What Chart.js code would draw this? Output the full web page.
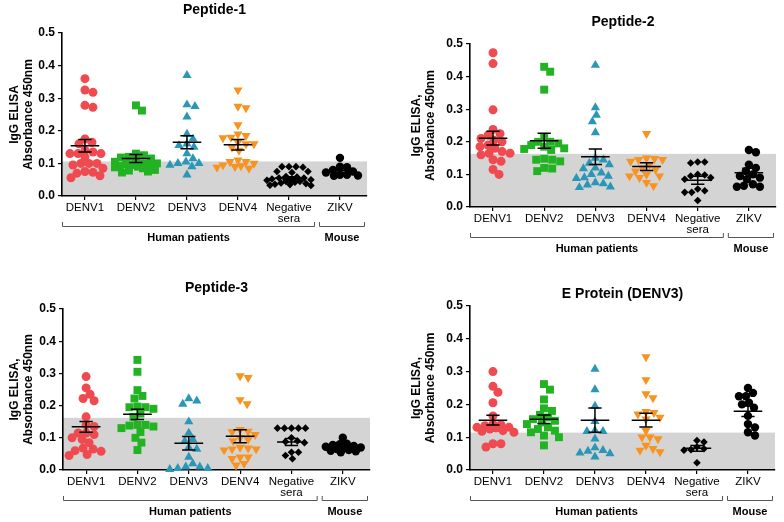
<!DOCTYPE html>
<html>
<head>
<meta charset="utf-8">
<script src="https://cdn.jsdelivr.net/npm/chart.js@4.4.1/dist/chart.umd.min.js"></script>
<style>
  body { margin: 0; background: #fff; }
  #wrap { position: relative; width: 784px; height: 522px; }
  canvas { position: absolute; }
</style>
</head>
<body>
<div id="wrap">
  <canvas id="c0" width="392" height="261" style="left:0;top:0"></canvas>
  <canvas id="c1" width="392" height="261" style="left:392px;top:0"></canvas>
  <canvas id="c2" width="392" height="261" style="left:0;top:261px"></canvas>
  <canvas id="c3" width="392" height="261" style="left:392px;top:261px"></canvas>
</div>
<script>
// groups on the x axis, and the two brackets underneath
const groups = ['DENV1', 'DENV2', 'DENV3', 'DENV4', 'Negative sera', 'ZIKV'];
const brackets = ['Human patients', 'Mouse'];
const yTicks = [0, 0.1, 0.2, 0.3, 0.4, 0.5];

// Peptide-1
const pep1Values = [
  [0.36, 0.325, 0.318, 0.278, 0.272, 0.175, 0.165, 0.16, 0.14, 0.135, 0.13, 0.13, 0.13, 0.12, 0.1, 0.1, 0.1, 0.095, 0.085, 0.075, 0.073, 0.07, 0.062, 0.056],
  [0.278, 0.262, 0.13, 0.125, 0.12, 0.118, 0.115, 0.11, 0.105, 0.1, 0.1, 0.098, 0.095, 0.095, 0.092, 0.09, 0.088, 0.085, 0.08, 0.078, 0.075, 0.072],
  [0.37, 0.28, 0.275, 0.243, 0.19, 0.175, 0.16, 0.155, 0.15, 0.13, 0.115, 0.105, 0.1, 0.1, 0.095, 0.09, 0.065],
  [0.325, 0.275, 0.27, 0.218, 0.19, 0.185, 0.18, 0.178, 0.165, 0.16, 0.16, 0.15, 0.14, 0.11, 0.105, 0.105, 0.1, 0.095, 0.09, 0.088, 0.085, 0.092],
  [0.09, 0.09, 0.088, 0.09, 0.075, 0.075, 0.072, 0.06, 0.058, 0.055, 0.055, 0.052, 0.05, 0.05, 0.048, 0.045, 0.045, 0.042, 0.04, 0.038, 0.036, 0.035, 0.033, 0.032],
  [0.117, 0.09, 0.088, 0.08, 0.075, 0.072, 0.065, 0.065, 0.063, 0.062]
];
const pep1Mean = [0.154, 0.115, 0.165, 0.157, 0.055, 0.078];
const pep1Sem = [0.019, 0.012, 0.02, 0.016, 0.004, 0.006];

// Peptide-2
const pep2Values = [
  [0.473, 0.44, 0.298, 0.238, 0.225, 0.22, 0.21, 0.205, 0.2, 0.19, 0.185, 0.18, 0.17, 0.165, 0.165, 0.16, 0.145, 0.14, 0.115, 0.1],
  [0.43, 0.415, 0.36, 0.215, 0.2, 0.2, 0.195, 0.19, 0.185, 0.18, 0.178, 0.175, 0.148, 0.145, 0.145, 0.14, 0.12, 0.118, 0.11],
  [0.435, 0.305, 0.282, 0.262, 0.228, 0.15, 0.145, 0.135, 0.13, 0.12, 0.118, 0.105, 0.1, 0.095, 0.09, 0.088, 0.075, 0.072, 0.068, 0.062, 0.06],
  [0.225, 0.15, 0.148, 0.145, 0.145, 0.14, 0.13, 0.12, 0.115, 0.11, 0.1, 0.095, 0.095, 0.09, 0.075, 0.065],
  [0.138, 0.138, 0.135, 0.1, 0.098, 0.095, 0.09, 0.085, 0.055, 0.05, 0.045, 0.045, 0.02],
  [0.175, 0.168, 0.13, 0.12, 0.11, 0.1, 0.095, 0.09, 0.085, 0.07, 0.065, 0.062, 0.062]
];
const pep2Mean = [0.211, 0.203, 0.154, 0.124, 0.082, 0.105];
const pep2Sem = [0.021, 0.023, 0.024, 0.012, 0.012, 0.014];

// Peptide-3
const pep3Values = [
  [0.29, 0.255, 0.235, 0.222, 0.215, 0.165, 0.14, 0.135, 0.115, 0.115, 0.11, 0.1, 0.095, 0.085, 0.068, 0.065, 0.06, 0.058, 0.048, 0.045],
  [0.342, 0.305, 0.248, 0.23, 0.222, 0.197, 0.195, 0.195, 0.19, 0.175, 0.165, 0.14, 0.14, 0.138, 0.135, 0.13, 0.118, 0.1, 0.085, 0.062],
  [0.222, 0.215, 0.205, 0.15, 0.115, 0.095, 0.09, 0.07, 0.065, 0.04, 0.02, 0.01, 0.01, 0.005, 0.005, 0.002],
  [0.292, 0.287, 0.218, 0.205, 0.125, 0.12, 0.118, 0.11, 0.1, 0.095, 0.09, 0.07, 0.068, 0.065, 0.065, 0.062, 0.04, 0.04, 0.035, 0.02, 0.015],
  [0.13, 0.13, 0.13, 0.13, 0.13, 0.1, 0.09, 0.088, 0.085, 0.055, 0.055, 0.045, 0.035],
  [0.1, 0.082, 0.08, 0.078, 0.075, 0.072, 0.07, 0.068, 0.065, 0.062, 0.06, 0.058, 0.055]
];
const pep3Mean = [0.134, 0.173, 0.083, 0.105, 0.087, 0.071];
const pep3Sem = [0.017, 0.016, 0.021, 0.02, 0.011, 0.003];

// E Protein (DENV3)
const eProtValues = [
  [0.3, 0.255, 0.237, 0.205, 0.165, 0.14, 0.138, 0.135, 0.13, 0.13, 0.128, 0.125, 0.12, 0.118, 0.115, 0.08, 0.08, 0.07],
  [0.262, 0.245, 0.215, 0.188, 0.18, 0.168, 0.16, 0.155, 0.15, 0.145, 0.14, 0.13, 0.125, 0.12, 0.115, 0.105, 0.1, 0.075],
  [0.308, 0.245, 0.195, 0.148, 0.12, 0.118, 0.118, 0.095, 0.068, 0.06, 0.058, 0.052, 0.05, 0.04],
  [0.345, 0.275, 0.232, 0.22, 0.178, 0.175, 0.17, 0.16, 0.155, 0.12, 0.1, 0.1, 0.095, 0.075, 0.065, 0.06, 0.055],
  [0.09, 0.085, 0.07, 0.065, 0.062, 0.06, 0.022],
  [0.25, 0.235, 0.225, 0.225, 0.205, 0.2, 0.19, 0.165, 0.14, 0.13, 0.115, 0.105]
];
const eProtMean = [0.152, 0.155, 0.152, 0.152, 0.066, 0.179];
const eProtSem = [0.015, 0.013, 0.037, 0.021, 0.009, 0.016];

// cut-off (grey band) per panel
const cutoffs = [0.106, 0.163, 0.162, 0.114];

const FONT = "'Liberation Sans', Arial, Helvetica, sans-serif";
Chart.defaults.font.family = FONT;
Chart.defaults.color = '#000';

const X_MIN = -0.45, X_MAX = 5.53;

const styles = [
  { shape: 'circle', radius: 4.5, color: '#ef4a4f', gap: 7.5, spread: 21 },
  { shape: 'rect', radius: 5.6, color: '#22b322', gap: 7.5, spread: 21 },
  { shape: 'triangle', radius: 5.3, color: '#2a97b6', gap: 7.5, spread: 21 },
  { shape: 'triangle', radius: 5.3, color: '#f7931e', gap: 7.5, spread: 21, rotation: 180 },
  { shape: 'rectRot', radius: 3.8, color: '#000', gap: 6.5, spread: 22 },
  { shape: 'circle', radius: 4.2, color: '#000', gap: 7, spread: 18 }
];

// beeswarm-ish layout: push close values sideways, within a max spread
function swarm(values, gi, pxX, pxY, d, spread) {
  const placed = [];
  return values.slice().sort((a, b) => b - a).map(v => {
    const py = v * pxY;
    let off = 0, bestD = -1;
    for (let k = 0; k <= 2 * spread; k++) {
      const cand = (k % 2 ? 1 : -1) * Math.ceil(k / 2);
      let minD = Infinity;
      placed.forEach(p => { minD = Math.min(minD, Math.hypot(p.px - cand, p.py - py)); });
      if (minD >= d) { off = cand; break; }
      if (minD > bestD + 0.5) { bestD = minD; off = cand; }
    }
    placed.push({ px: off, py });
    return { x: gi + off / pxX, y: v };
  });
}

const panels = [
  { id: 'c0', title: 'Peptide-1', yTitle: ['IgG ELISA', 'Absorbance 450nm'], values: pep1Values, mean: pep1Mean, sem: pep1Sem, cutoff: cutoffs[0],
    area: { l: 62, r: 367, t: 33, b: 196 }, titleY: 10, yTitlePad: 7 },
  { id: 'c1', title: 'Peptide-2', yTitle: ['IgG ELISA,', 'Absorbance 450nm'], values: pep2Values, mean: pep2Mean, sem: pep2Sem, cutoff: cutoffs[1],
    area: { l: 78, r: 384, t: 44, b: 207 }, titleY: 22, yTitlePad: 17 },
  { id: 'c2', title: 'Peptide-3', yTitle: ['IgG ELISA,', 'Absorbance 450nm'], values: pep3Values, mean: pep3Mean, sem: pep3Sem, cutoff: cutoffs[2],
    area: { l: 63, r: 370, t: 48, b: 209 }, titleY: 27, yTitlePad: 7 },
  { id: 'c3', title: 'E Protein (DENV3)', yTitle: ['IgG ELISA,', 'Absorbance 450nm'], values: eProtValues, mean: eProtMean, sem: eProtSem, cutoff: cutoffs[3],
    area: { l: 78, r: 383, t: 45, b: 209 }, titleY: 33, yTitlePad: 17 }
];

const panelPlugin = p => ({
  id: 'panelExtras',
  beforeDraw(chart) {
    const { ctx, chartArea: ca, scales: { y } } = chart;
    const top = y.getPixelForValue(p.cutoff);
    ctx.save();
    ctx.fillStyle = '#d4d4d4';
    ctx.fillRect(ca.left, top, ca.right - ca.left, ca.bottom - top);
    ctx.restore();
  },
  afterDatasetsDraw(chart) {
    const { ctx, scales: { x, y } } = chart;
    ctx.save();
    ctx.strokeStyle = '#000';
    ctx.lineWidth = 1.5;
    p.mean.forEach((m, i) => {
      const ym = y.getPixelForValue(m);
      const yHi = y.getPixelForValue(m + p.sem[i]);
      const yLo = y.getPixelForValue(m - p.sem[i]);
      const xc = x.getPixelForValue(i);
      const w = x.getPixelForValue(i + 0.28) - xc;
      const c = x.getPixelForValue(i + 0.13) - xc;
      ctx.beginPath();
      ctx.moveTo(xc - w, ym); ctx.lineTo(xc + w, ym);
      ctx.moveTo(xc, yHi); ctx.lineTo(xc, yLo);
      ctx.moveTo(xc - c, yHi); ctx.lineTo(xc + c, yHi);
      ctx.moveTo(xc - c, yLo); ctx.lineTo(xc + c, yLo);
      ctx.stroke();
    });
    ctx.restore();
  },
  afterDraw(chart) {
    const { ctx, chartArea: ca, scales: { x } } = chart;
    ctx.save();
    ctx.fillStyle = '#000';
    ctx.textAlign = 'center';
    ctx.textBaseline = 'middle';
    ctx.font = 'bold 14px ' + FONT;
    ctx.fillText(p.title, (ca.left + ca.right) / 2, p.titleY);

    const split = x.getPixelForValue(4.55);
    const yb = ca.bottom + 30;
    const spans = [[ca.left, split - 2], [split + 2, ca.right - 2]];
    ctx.strokeStyle = '#555';
    ctx.lineWidth = 1;
    ctx.font = 'bold 11px ' + FONT;
    spans.forEach(([a, b], i) => {
      ctx.beginPath();
      ctx.moveTo(a + 0.5, yb - 4); ctx.lineTo(a + 0.5, yb + 0.5);
      ctx.lineTo(b - 0.5, yb + 0.5); ctx.lineTo(b - 0.5, yb - 4);
      ctx.stroke();
      ctx.fillText(brackets[i], (a + b) / 2, yb + 12);
    });
    ctx.restore();
  }
});

panels.forEach(p => {
  const a = p.area;
  const pxX = (a.r - a.l) / (X_MAX - X_MIN);
  const pxY = (a.b - a.t) / 0.5;
  const datasets = groups.map((g, i) => ({
    label: g,
    data: swarm(p.values[i], i, pxX, pxY, styles[i].gap, styles[i].spread),
    pointStyle: styles[i].shape,
    rotation: styles[i].rotation || 0,
    pointRadius: styles[i].radius,
    backgroundColor: styles[i].color,
    borderColor: styles[i].color,
    pointBorderWidth: 0,
    showLine: false,
    clip: false
  }));

  new Chart(document.getElementById(p.id), {
    type: 'scatter',
    data: { datasets },
    options: {
      responsive: false,
      animation: false,
      events: [],
      layout: { padding: { left: 0, top: a.t, right: 392 - a.r, bottom: 261 - a.b - 40 } },
      plugins: { legend: { display: false }, tooltip: { enabled: false } },
      scales: {
        x: {
          type: 'linear',
          min: X_MIN,
          max: X_MAX,
          afterBuildTicks: s => { s.ticks = groups.map((g, i) => ({ value: i })); },
          afterFit: s => { s.height = 40; },
          ticks: {
            autoSkip: false, maxRotation: 0, minRotation: 0, padding: 2, color: '#000',
            font: { size: 11.5, lineHeight: 1.0 },
            callback: v => groups[v].split(' ')
          },
          grid: { drawOnChartArea: false, tickLength: 4, color: '#000', lineWidth: 1.2 },
          border: { color: '#000', width: 1.6 }
        },
        y: {
          min: 0,
          max: 0.5,
          afterBuildTicks: s => { s.ticks = yTicks.map(v => ({ value: v })); },
          afterFit: s => { s.width = a.l; },
          ticks: { padding: 3, color: '#000', font: { size: 12, weight: 'bold' }, callback: v => v.toFixed(1) },
          grid: { drawOnChartArea: false, tickLength: 4, color: '#000', lineWidth: 1.2 },
          border: { color: '#000', width: 1.6 },
          title: {
            display: true, text: p.yTitle, color: '#000',
            font: { size: 12, weight: 'bold', lineHeight: 1.2 },
            padding: { top: p.yTitlePad, bottom: 0 }
          }
        }
      }
    },
    plugins: [panelPlugin(p)]
  });
});
</script>
</body>
</html>
